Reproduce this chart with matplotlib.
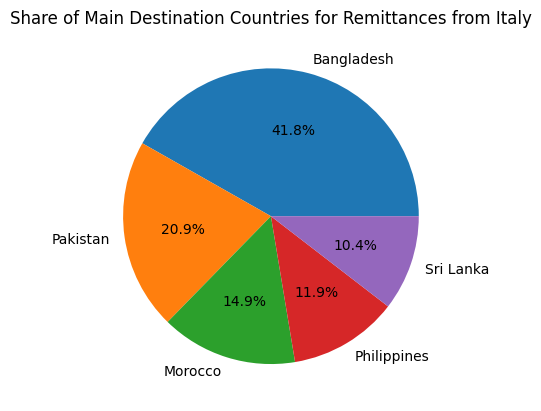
import matplotlib
matplotlib.use("Agg")
import matplotlib.pyplot as plt

countries = ["Bangladesh", "Pakistan", "Morocco", "Philippines", "Sri Lanka"]
remittances = [2.8, 1.4, 1.0, 0.8, 0.7]

fig, ax = plt.subplots(figsize=(6.4, 4.8), dpi=100)
ax.pie(remittances, labels=countries, autopct='%1.1f%%')
ax.set_title('Share of Main Destination Countries for Remittances from Italy')

fig.savefig("out.png", bbox_inches='tight')
